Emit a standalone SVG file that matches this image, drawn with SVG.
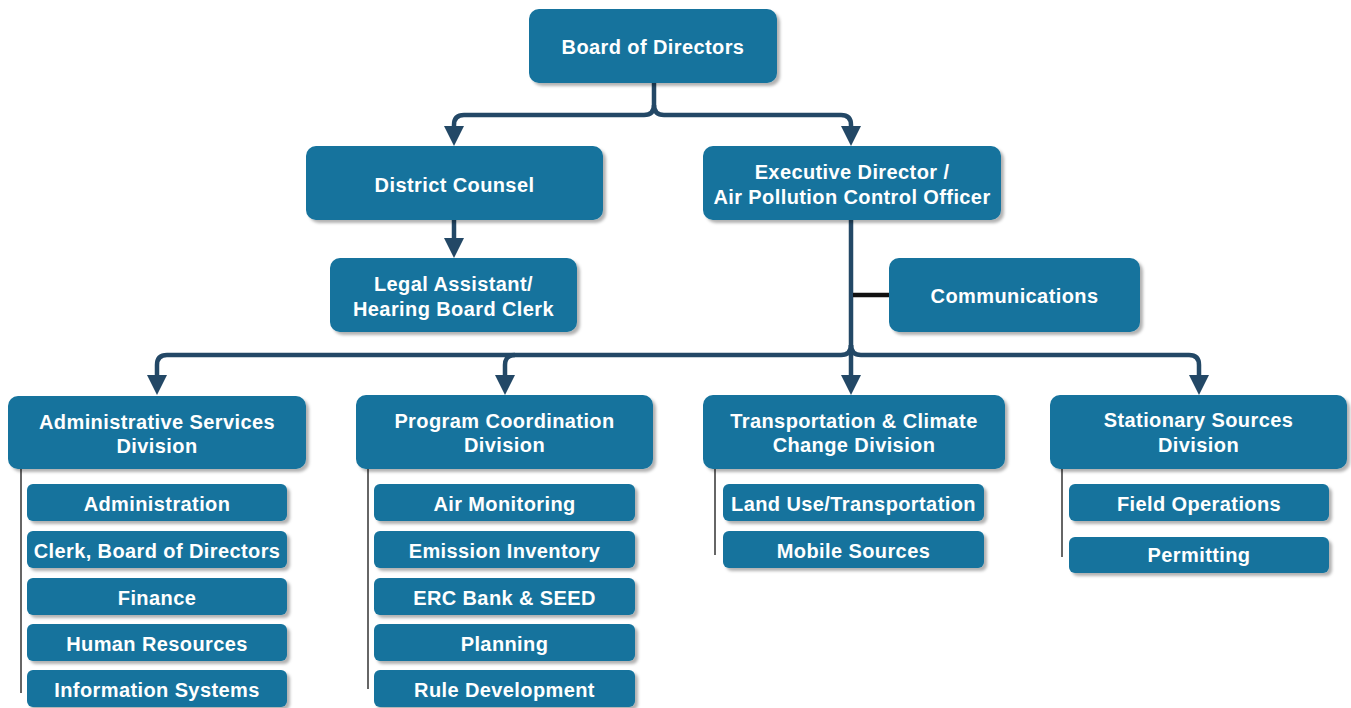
<svg xmlns="http://www.w3.org/2000/svg" width="1351" height="708" viewBox="0 0 1351 708">
  <defs>
    <filter id="shadow" x="-5%" y="-10%" width="115%" height="130%">
      <feDropShadow dx="3" dy="3" stdDeviation="1.5" flood-color="#000" flood-opacity="0.3"/>
    </filter>
    <marker id="arrow" viewBox="0 0 20 20" refX="0" refY="10" markerWidth="20" markerHeight="20" markerUnits="userSpaceOnUse" orient="auto">
      <path d="M0,0 L20,10 L0,20 z" fill="#234866"/>
    </marker>
    <style>
      .box { fill: #14739d; filter: url(#shadow); }
      .lbl { fill: #ffffff; font-family: "Liberation Sans", Arial, sans-serif; font-weight: bold; font-size: 20px; letter-spacing: 0.4px; text-anchor: middle; }
      .conn { fill: none; stroke: #234866; stroke-width: 4.5; stroke-linejoin: round; }
      .tick { fill: none; stroke: #111111; stroke-width: 4.5; }
      .rail { fill: none; stroke: #333333; stroke-width: 1.5; }
    </style>
  </defs>

  <!-- connectors -->
  <g id="connectors">
    <path class="conn" d="M654,83 V105 Q654,115 644,115 H464 Q454,115 454,125 V126" marker-end="url(#arrow)"/>
    <path class="conn" d="M654,105 Q654,115 664,115 H841 Q851,115 851,125 V126" marker-end="url(#arrow)"/>
    <path class="conn" d="M454,220 V238" marker-end="url(#arrow)"/>
    <path class="conn" d="M851,220 V375" marker-end="url(#arrow)"/>
    <path class="conn" d="M851,345 Q851,355 841,355 H167 Q157,355 157,365 V375" marker-end="url(#arrow)"/>
    <path class="conn" d="M515,355 Q505,355 505,365 V375" marker-end="url(#arrow)"/>
    <path class="conn" d="M851,345 Q851,355 861,355 H1189 Q1199,355 1199,365 V375" marker-end="url(#arrow)"/>
    <path class="tick" d="M853,295 H889"/>
    <path class="rail" d="M21,469 V693"/>
    <path class="rail" d="M368,469 V689"/>
    <path class="rail" d="M715,469 V555"/>
    <path class="rail" d="M1062,469 V557"/>
  </g>

  <!-- top level -->
  <g id="board">
    <rect class="box" x="529" y="9" width="248" height="74" rx="10"/>
    <text class="lbl" x="653" y="54">Board of Directors</text>
  </g>
  <g id="district-counsel">
    <rect class="box" x="306" y="146" width="297" height="74" rx="10"/>
    <text class="lbl" x="454.5" y="191.5">District Counsel</text>
  </g>
  <g id="executive-director">
    <rect class="box" x="703" y="146" width="298" height="74" rx="10"/>
    <text class="lbl" x="852" y="179">Executive Director /</text>
    <text class="lbl" x="852" y="204">Air Pollution Control Officer</text>
  </g>
  <g id="legal-assistant">
    <rect class="box" x="330" y="258" width="247" height="74" rx="10"/>
    <text class="lbl" x="453.5" y="291">Legal Assistant/</text>
    <text class="lbl" x="453.5" y="315.5">Hearing Board Clerk</text>
  </g>
  <g id="communications">
    <rect class="box" x="889" y="258" width="251" height="74" rx="10"/>
    <text class="lbl" x="1014.5" y="303">Communications</text>
  </g>

  <!-- divisions -->
  <g id="admin-division">
    <rect class="box" x="8" y="396" width="298" height="73" rx="10"/>
    <text class="lbl" x="157" y="429">Administrative Services</text>
    <text class="lbl" x="157" y="453">Division</text>
  </g>
  <g id="program-division">
    <rect class="box" x="356" y="395" width="297" height="74" rx="10"/>
    <text class="lbl" x="504.5" y="427.5">Program Coordination</text>
    <text class="lbl" x="504.5" y="452">Division</text>
  </g>
  <g id="transportation-division">
    <rect class="box" x="703" y="395" width="302" height="74" rx="10"/>
    <text class="lbl" x="854" y="427.5">Transportation &amp; Climate</text>
    <text class="lbl" x="854" y="452">Change Division</text>
  </g>
  <g id="stationary-division">
    <rect class="box" x="1050" y="395" width="297" height="74" rx="10"/>
    <text class="lbl" x="1198.5" y="427">Stationary Sources</text>
    <text class="lbl" x="1198.5" y="452">Division</text>
  </g>

  <!-- administrative services units -->
  <g id="administration">
    <rect class="box" x="27" y="484" width="260" height="37" rx="6"/>
    <text class="lbl" x="157" y="510.5">Administration</text>
  </g>
  <g id="clerk">
    <rect class="box" x="27" y="531" width="260" height="37" rx="6"/>
    <text class="lbl" x="157" y="557.5">Clerk, Board of Directors</text>
  </g>
  <g id="finance">
    <rect class="box" x="27" y="578" width="260" height="37" rx="6"/>
    <text class="lbl" x="157" y="604.5">Finance</text>
  </g>
  <g id="human-resources">
    <rect class="box" x="27" y="624" width="260" height="37" rx="6"/>
    <text class="lbl" x="157" y="651">Human Resources</text>
  </g>
  <g id="information-systems">
    <rect class="box" x="27" y="670" width="260" height="37" rx="6"/>
    <text class="lbl" x="157" y="696.5">Information Systems</text>
  </g>

  <!-- program coordination units -->
  <g id="air-monitoring">
    <rect class="box" x="374" y="484" width="261" height="37" rx="6"/>
    <text class="lbl" x="504.5" y="510.5">Air Monitoring</text>
  </g>
  <g id="emission-inventory">
    <rect class="box" x="374" y="531" width="261" height="37" rx="6"/>
    <text class="lbl" x="504.5" y="557.5">Emission Inventory</text>
  </g>
  <g id="erc-bank">
    <rect class="box" x="374" y="578" width="261" height="37" rx="6"/>
    <text class="lbl" x="504.5" y="604.5">ERC Bank &amp; SEED</text>
  </g>
  <g id="planning">
    <rect class="box" x="374" y="624" width="261" height="37" rx="6"/>
    <text class="lbl" x="504.5" y="651">Planning</text>
  </g>
  <g id="rule-development">
    <rect class="box" x="374" y="670" width="261" height="37" rx="6"/>
    <text class="lbl" x="504.5" y="696.5">Rule Development</text>
  </g>

  <!-- transportation units -->
  <g id="land-use">
    <rect class="box" x="723" y="484" width="261" height="37" rx="6"/>
    <text class="lbl" x="853.5" y="510.5">Land Use/Transportation</text>
  </g>
  <g id="mobile-sources">
    <rect class="box" x="723" y="531" width="261" height="37" rx="6"/>
    <text class="lbl" x="853.5" y="557.5">Mobile Sources</text>
  </g>

  <!-- stationary sources units -->
  <g id="field-operations">
    <rect class="box" x="1069" y="484" width="260" height="37" rx="6"/>
    <text class="lbl" x="1199" y="510.5">Field Operations</text>
  </g>
  <g id="permitting">
    <rect class="box" x="1069" y="537" width="260" height="36" rx="6"/>
    <text class="lbl" x="1199" y="562">Permitting</text>
  </g>
</svg>
